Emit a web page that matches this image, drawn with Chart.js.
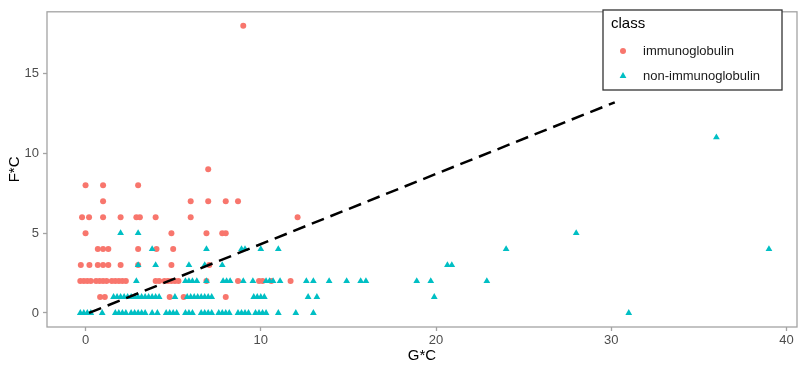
<!DOCTYPE html>
<html>
<head>
<meta charset="utf-8">
<script src="https://cdn.jsdelivr.net/npm/chart.js@4.4.1/dist/chart.umd.min.js"></script>
<style>
  html, body { margin: 0; padding: 0; background: #fff; }
</style>
</head>
<body>
<canvas id="chart" width="803" height="367"></canvas>
<script>
// [G*C, F*C] pairs
const immunoglobulin = [
  [9, 18], [7, 9], [0, 8], [1, 8], [3, 8],
  [1, 7], [6, 7], [7, 7], [8, 7], [8.7, 7],
  [-0.2, 6], [0.2, 6], [1, 6], [2, 6], [2.9, 6], [3.1, 6], [4, 6], [6, 6], [12.1, 6],
  [0, 5], [4.9, 5], [6.9, 5], [7.8, 5], [8, 5],
  [0.7, 4], [1, 4], [1.3, 4], [3, 4], [4.05, 4], [5, 4],
  [-0.27, 3], [0.22, 3], [0.7, 3], [1, 3], [1.3, 3], [2, 3], [3, 3], [4.9, 3], [7.06, 3],
  [-0.3, 2], [-0.1, 2], [0.1, 2], [0.3, 2], [0.6, 2], [0.8, 2], [1, 2], [1.2, 2], [1.5, 2],
  [1.7, 2], [1.9, 2], [2.1, 2], [2.3, 2], [4, 2], [4.2, 2], [4.5, 2], [4.7, 2], [4.9, 2],
  [5.1, 2], [5.3, 2], [6.9, 2], [8.7, 2], [9.9, 2], [10.1, 2], [10.6, 2], [11.7, 2],
  [0.83, 1], [1.1, 1], [4.8, 1], [5.6, 1], [8, 1]
];
const nonImmunoglobulin = [
  [36, 11], [2, 5], [3, 5], [28, 5],
  [3.8, 4], [6.9, 4], [8.9, 4], [9.1, 4], [10, 4], [11, 4], [24, 4], [39, 4],
  [3, 3], [4, 3], [5.9, 3], [6.8, 3], [7.8, 3], [20.65, 3], [20.9, 3],
  [2.9, 2], [5.7, 2], [5.9, 2], [6.1, 2], [6.35, 2], [6.9, 2], [7.85, 2], [8.05, 2], [8.25, 2],
  [9, 2], [9.55, 2], [10.3, 2], [10.5, 2], [10.7, 2], [11.1, 2], [12.6, 2], [13, 2], [13.9, 2],
  [14.9, 2], [15.7, 2], [16, 2], [18.9, 2], [19.7, 2], [22.9, 2],
  [1.6, 1], [1.8, 1], [2, 1], [2.2, 1], [2.4, 1], [2.6, 1], [2.8, 1], [3, 1], [3.2, 1], [3.4, 1],
  [3.6, 1], [3.8, 1], [4, 1], [4.2, 1], [5.1, 1], [5.8, 1], [6, 1], [6.2, 1], [6.4, 1], [6.6, 1],
  [6.8, 1], [7, 1], [7.2, 1], [9.6, 1], [9.8, 1], [10, 1], [10.2, 1], [12.7, 1], [13.2, 1], [19.9, 1],
  [-0.3, 0], [-0.1, 0], [0.1, 0], [0.3, 0], [0.95, 0], [1.7, 0], [1.9, 0], [2.1, 0], [2.3, 0],
  [2.6, 0], [2.8, 0], [3, 0], [3.2, 0], [3.4, 0], [3.8, 0], [4.1, 0], [4.6, 0], [4.8, 0], [5, 0],
  [5.2, 0], [5.7, 0], [5.9, 0], [6.1, 0], [6.6, 0], [6.8, 0], [7, 0], [7.2, 0], [7.6, 0], [7.8, 0],
  [8, 0], [8.2, 0], [8.7, 0], [8.9, 0], [9.1, 0], [9.3, 0], [9.7, 0], [9.9, 0], [10.1, 0], [10.3, 0],
  [11, 0], [12, 0], [13, 0], [31, 0]
];
const dividerLine = [[0.2, 0], [30.2, 13.2]];
const classNames = ["immunoglobulin", "non-immunoglobulin"];
const xTicks = [0, 10, 20, 30, 40];
const yTicks = [0, 5, 10, 15];

const RED = "#F8766D", TEAL = "#00BFC4", GREY = "#a3a3a3";
const FONT = "'Liberation Sans', Arial, sans-serif";
const toXY = arr => arr.map(p => ({ x: p[0], y: p[1] }));

function drawMarker(ctx, style, x, y, r, color) {
  ctx.fillStyle = color;
  ctx.beginPath();
  if (style === "circle") {
    ctx.arc(x, y, r, 0, Math.PI * 2);
  } else {
    for (let i = 0; i < 3; i++) {
      const a = i * 2 * Math.PI / 3;
      const px = x + Math.sin(a) * r, py = y - Math.cos(a) * r;
      i ? ctx.lineTo(px, py) : ctx.moveTo(px, py);
    }
    ctx.closePath();
  }
  ctx.fill();
}

const panelAndLegend = {
  id: "panelAndLegend",
  afterDraw(chart) {
    const { ctx, chartArea: a } = chart;
    ctx.save();
    ctx.strokeStyle = GREY;
    ctx.lineWidth = 1.3;
    ctx.strokeRect(a.left, a.top, a.right - a.left, a.bottom - a.top);

    // legend box
    ctx.fillStyle = "#fff";
    ctx.fillRect(603, 10, 179, 80);
    ctx.strokeStyle = "#333";
    ctx.lineWidth = 1.3;
    ctx.strokeRect(603, 10, 179, 80);
    ctx.fillStyle = "#000";
    ctx.font = `15px ${FONT}`;
    ctx.textBaseline = "middle";
    ctx.fillText("class", 611, 24);
    ctx.font = `13px ${FONT}`;
    const items = [["circle", RED, 51], ["triangle", TEAL, 76]];
    items.forEach((it, i) => {
      drawMarker(ctx, it[0], 623, it[2], it[0] === "circle" ? 3 : 3.9, it[1]);
      ctx.fillStyle = "#1a1a1a";
      ctx.fillText(classNames[i], 643, it[2]);
    });
    ctx.restore();
  }
};

new Chart(document.getElementById("chart"), {
  type: "scatter",
  data: {
    datasets: [
      {
        type: "line",
        data: toXY(dividerLine),
        borderColor: "#000",
        borderWidth: 2.5,
        borderDash: [13, 7],
        pointRadius: 0,
        fill: false,
        order: 0,
      },
      {
        label: classNames[1],
        data: toXY(nonImmunoglobulin),
        pointStyle: "triangle",
        pointRadius: 3.9,
        backgroundColor: TEAL,
        borderWidth: 0,
        order: 1,
      },
      {
        label: classNames[0],
        data: toXY(immunoglobulin),
        pointStyle: "circle",
        pointRadius: 3,
        backgroundColor: RED,
        borderWidth: 0,
        order: 2,
      },
    ],
  },
  options: {
    responsive: false,
    animation: false,
    layout: { padding: { top: 3, right: 6, left: 0, bottom: 0 } },
    plugins: { legend: { display: false }, tooltip: { enabled: false } },
    scales: {
      x: {
        type: "linear",
        min: -2.2,
        max: 40.6,
        afterFit: s => { s.height = 40; },
        afterBuildTicks: s => { s.ticks = xTicks.map(v => ({ value: v })); },
        ticks: { color: "#4d4d4d", font: { family: FONT, size: 13 }, padding: 2, maxRotation: 0 },
        grid: { drawOnChartArea: false, drawTicks: true, tickLength: 4, tickColor: GREY, tickWidth: 1.3 },
        border: { display: false },
        title: { display: true, text: "G*C", color: "#000", font: { family: FONT, size: 15 }, padding: 2 },
      },
      y: {
        type: "linear",
        min: -0.88,
        max: 18.87,
        afterFit: s => { s.width = 47; },
        afterBuildTicks: s => { s.ticks = yTicks.map(v => ({ value: v })); },
        ticks: { color: "#4d4d4d", font: { family: FONT, size: 13 }, padding: 4 },
        grid: { drawOnChartArea: false, drawTicks: true, tickLength: 4, tickColor: GREY, tickWidth: 1.3 },
        border: { display: false },
        title: { display: true, text: "F*C", color: "#000", font: { family: FONT, size: 15 }, padding: 6 },
      },
    },
  },
  plugins: [panelAndLegend],
});
</script>
</body>
</html>
